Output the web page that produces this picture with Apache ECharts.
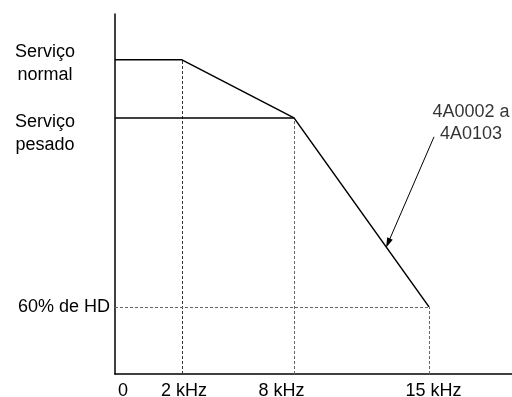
<!DOCTYPE html>
<html>
<head>
<meta charset="utf-8">
<script src="https://cdn.jsdelivr.net/npm/echarts@6/dist/echarts.min.js"></script>
<style>
  html, body { margin: 0; padding: 0; background: #fff; }
  #chart { width: 512px; height: 397px; }
</style>
</head>
<body>
<div id="chart"></div>
<script>
// Carrier-frequency derating: output current in % of the heavy-duty rating (HD)
const freqLabels = ['0', '2 kHz', '8 kHz', '15 kHz'];
const freqPos = [0, 67, 179, 314];            // schematic positions of the frequency breakpoints
const freqLabelPos = [8, 69, 166.5, 318.5];   // anchor of each frequency label
const xMax = 397;

const normalDutyX = [0, 67, 179];
const normalDutyY = [112.3, 112.3, 100];
const heavyDutyX = [0, 179, 314];
const heavyDutyY = [100, 100, 60];
const hdFloor = 60;
const yMin = 45.8, yMax = 122;

const yLabelValues = [111.6, 96.7, 60];
const yLabelTexts = ['Serviço\nnormal', 'Serviço\npesado', '60% de HD'];
const yLabelKinds = ['duty', 'duty', 'hd'];

const noteText = '4A0002 a\n4A0103';
const notePos = [356, 99];
const arrowFrom = [319, 96];
const arrowTo = [273, 73.5];

const FONT = '"Liberation Sans", Arial, sans-serif';

const zip = (xs, ys) => xs.map((x, i) => [x, ys[i]]);

const dashDark = { color: '#333', width: 1, type: [3, 2] };
const dashGrey = { color: '#666', width: 1, type: [3, 2] };

const chart = echarts.init(document.getElementById('chart'), null, { renderer: 'canvas' });

chart.setOption({
  animation: false,
  backgroundColor: '#fff',
  textStyle: { fontFamily: FONT },
  grid: { left: 115, right: 0, top: 14, bottom: 23, containLabel: false, outerBoundsMode: 'none' },
  xAxis: {
    type: 'value', min: 0, max: xMax,
    splitLine: { show: false },
    axisTick: { show: false },
    axisLine: { show: true, lineStyle: { color: '#000', width: 1.5 } },
    axisLabel: {
      customValues: freqLabelPos,
      formatter: v => freqLabels[freqLabelPos.indexOf(v)],
      color: '#000', fontSize: 18, fontFamily: FONT, margin: 8,
      showMinLabel: true, showMaxLabel: true
    }
  },
  yAxis: {
    type: 'value', min: yMin, max: yMax,
    splitLine: { show: false },
    axisTick: { show: false },
    axisLine: { show: true, lineStyle: { color: '#000', width: 1.5 } },
    axisLabel: {
      customValues: yLabelValues,
      margin: 5,
      formatter: v => {
        const i = yLabelValues.indexOf(v);
        return yLabelKinds[i] === 'duty'
          ? yLabelTexts[i].split('\n').map(s => '{duty|' + s + '}').join('\n')
          : '{hd|' + yLabelTexts[i] + '}';
      },
      rich: {
        duty: { width: 130, align: 'center', fontSize: 18, lineHeight: 23, color: '#000', fontFamily: FONT },
        hd: { align: 'right', fontSize: 18, color: '#000', fontFamily: FONT }
      }
    }
  },
  series: [
    {
      name: 'Serviço normal', type: 'line',
      data: zip(normalDutyX, normalDutyY),
      symbol: 'none', lineStyle: { color: '#000', width: 1.5 }, z: 5
    },
    {
      name: 'Serviço pesado', type: 'line',
      data: zip(heavyDutyX, heavyDutyY),
      symbol: 'none', lineStyle: { color: '#000', width: 1.5 }, z: 5,
      markLine: {
        silent: true, symbol: 'none', label: { show: false },
        data: [
          [{ coord: [freqPos[1], yMin], lineStyle: dashDark }, { coord: [freqPos[1], normalDutyY[1]] }],
          [{ coord: [freqPos[2], yMin], lineStyle: dashGrey }, { coord: [freqPos[2], heavyDutyY[1]] }],
          [{ coord: [freqPos[3], yMin], lineStyle: dashGrey }, { coord: [freqPos[3], hdFloor] }],
          [{ coord: [0, hdFloor], lineStyle: dashGrey }, { coord: [freqPos[3], hdFloor] }]
        ]
      }
    },
    {
      name: 'modelos', type: 'scatter',
      data: [notePos], symbolSize: 0, z: 6,
      label: {
        show: true, position: 'inside', formatter: noteText,
        fontSize: 18, lineHeight: 22, color: '#000', align: 'center', fontFamily: FONT
      },
      markLine: {
        silent: true, symbol: ['none', 'triangle'], symbolSize: [6, 10],
        label: { show: false },
        lineStyle: { color: '#000', width: 1, type: 'solid' },
        data: [[{ coord: arrowFrom }, { coord: arrowTo }]]
      }
    }
  ]
});
</script>
</body>
</html>
